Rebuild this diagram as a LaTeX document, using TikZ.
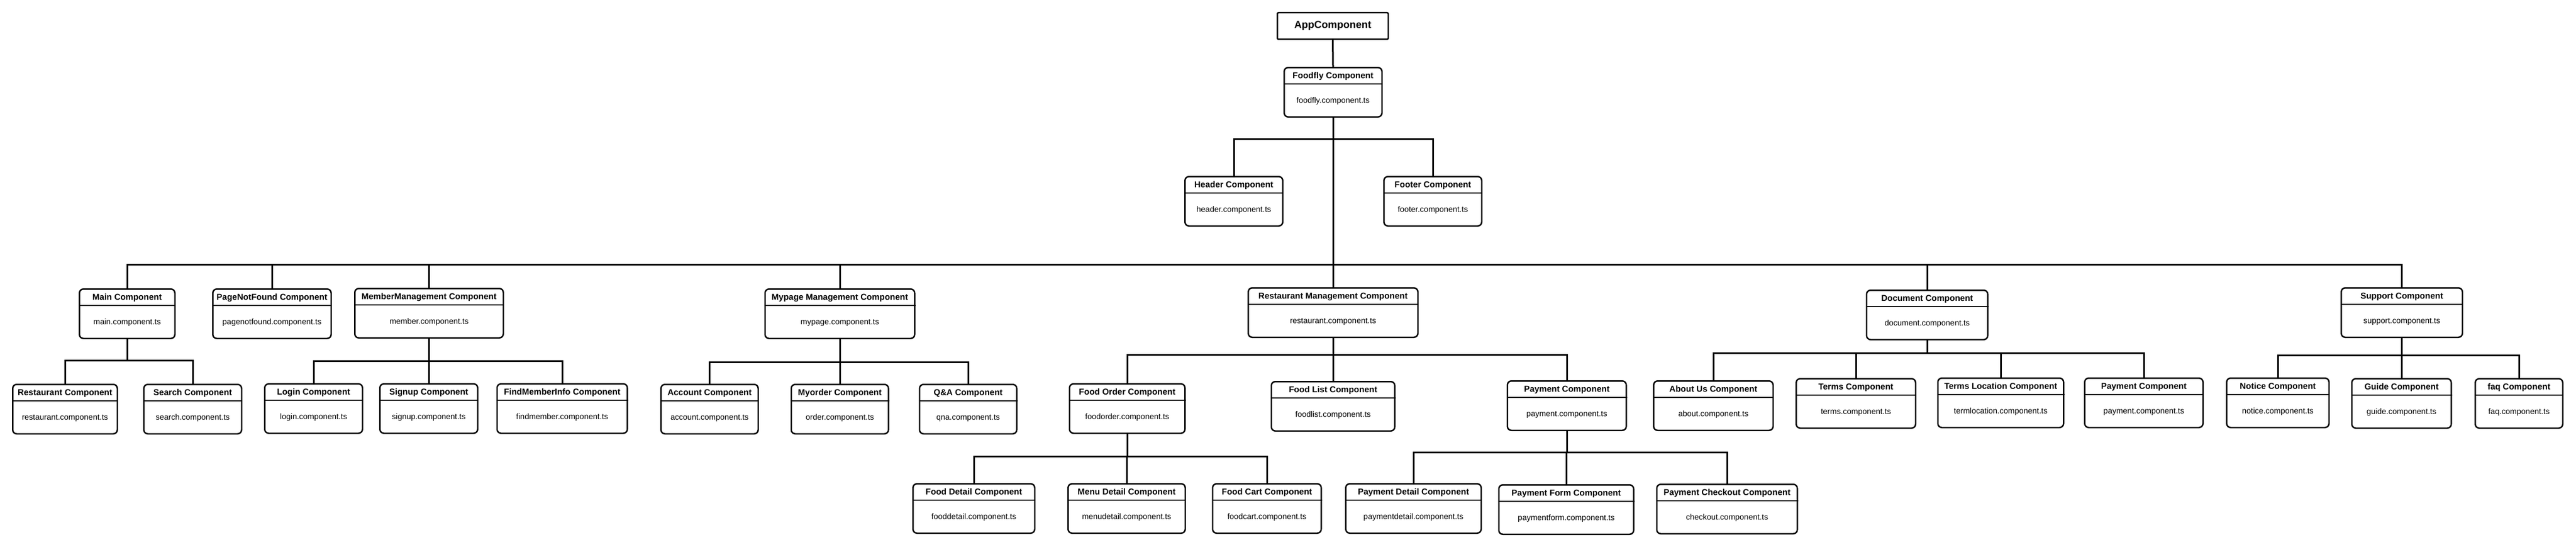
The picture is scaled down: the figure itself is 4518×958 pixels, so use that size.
\documentclass[tikz,border=0pt]{standalone}
\usepackage{fontspec}
\setmainfont{Liberation Sans}
\begin{document}
\begin{tikzpicture}[x=1pt,y=-1pt,
  compbox/.style={draw, line width=2.5pt, rounded corners=7pt, minimum height=86.5pt, inner sep=0pt, anchor=north},
  appbox/.style={draw, line width=2.5pt, rounded corners=2pt, minimum width=194.5pt, minimum height=46.5pt, inner sep=0pt, font=\bfseries\fontsize{18}{21}\selectfont},
  divider/.style={line width=2.5pt},
  ttl/.style={inner sep=0pt, text height=11pt, text depth=3pt, font=\bfseries\fontsize{15}{18}\selectfont},
  fil/.style={inner sep=0pt, text height=10pt, text depth=3pt, font=\fontsize{14}{17}\selectfont},
  conn/.style={line width=3pt}
]
\fill[white] (0,0) rectangle (4518,958);
\useasboundingbox (0,0) rectangle (4518,958);

\newcommand\comp[6]{%
  \node[compbox, minimum width=#4pt-2.5pt] (#1) at (#2,#3) {};
  \draw[divider] ([yshift=-30pt]#1.north west) -- ([yshift=-30pt]#1.north east);
  \node[ttl] (#1-t) at ([yshift=-16pt]#1.north) {#5};
  \node[fil] (#1-f) at ([yshift=-60pt]#1.north) {#6};
}
\newcommand\link[3]{\draw[conn] (#1.south) -- (#1.south |- 0,#3) -| (#2.north);}

\node[appbox] (app) at (2337.5,45.5) {AppComponent};

\comp{foodfly}{2338}{117}{174}{Foodfly Component}{foodfly.component.ts}
\comp{header}{2164}{308}{174}{Header Component}{header.component.ts}
\comp{footer}{2513}{308}{174}{Footer Component}{footer.component.ts}

\comp{main}{223}{505}{170}{Main Component}{main.component.ts}
\comp{pnf}{477}{505}{210}{PageNotFound Component}{pagenotfound.component.ts}
\comp{member}{752.5}{504}{263}{MemberManagement Component}{member.component.ts}
\comp{mypage}{1473}{505}{265}{Mypage Management Component}{mypage.component.ts}
\comp{restmgmt}{2338}{503}{300}{Restaurant Management Component}{restaurant.component.ts}
\comp{document}{3380}{507}{215}{Document Component}{document.component.ts}
\comp{support}{4212.5}{503}{215}{Support Component}{support.component.ts}

\comp{restaurant}{114}{672}{186}{Restaurant Component}{restaurant.component.ts}
\comp{search}{338}{672}{174}{Search Component}{search.component.ts}
\comp{login}{550}{671}{174}{Login Component}{login.component.ts}
\comp{signup}{752}{671}{174}{Signup Component}{signup.component.ts}
\comp{findmember}{986}{671}{231}{FindMemberInfo Component}{findmember.component.ts}
\comp{account}{1244.5}{672}{173}{Account Component}{account.component.ts}
\comp{myorder}{1473}{672}{173}{Myorder Component}{order.component.ts}
\comp{qna}{1698}{672}{173}{Q\&A Component}{qna.component.ts}
\comp{foodorder}{1977}{671}{205}{Food Order Component}{foodorder.component.ts}
\comp{foodlist}{2338}{667}{219}{Food List Component}{foodlist.component.ts}
\comp{payment}{2748}{666}{211}{Payment Component}{payment.component.ts}
\comp{aboutus}{3005}{666}{212}{About Us Component}{about.component.ts}
\comp{terms}{3255}{662}{212}{Terms Component}{terms.component.ts}
\comp{termsloc}{3509}{661}{223}{Terms Location Component}{termlocation.component.ts}
\comp{docpayment}{3760}{661}{210}{Payment Component}{payment.component.ts}
\comp{notice}{3995}{661}{182}{Notice Component}{notice.component.ts}
\comp{guide}{4212}{662}{177}{Guide Component}{guide.component.ts}
\comp{faq}{4418}{662}{156}{faq Component}{faq.component.ts}

\comp{fooddetail}{1708}{846}{216}{Food Detail Component}{fooddetail.component.ts}
\comp{menudetail}{1976}{846}{208}{Menu Detail Component}{menudetail.component.ts}
\comp{foodcart}{2222}{846}{193}{Food Cart Component}{foodcart.component.ts}
\comp{paydetail}{2479}{846}{240}{Payment Detail Component}{paymentdetail.component.ts}
\comp{payform}{2747}{848}{239}{Payment Form Component}{paymentform.component.ts}
\comp{checkout}{3029}{847}{249}{Payment Checkout Component}{checkout.component.ts}

% connectors
\draw[conn] (app.south) -- (foodfly.north);
\link{foodfly}{header}{243}
\link{foodfly}{footer}{243}
\foreach \c in {main,pnf,member,mypage,restmgmt,document,support} {\link{foodfly}{\c}{463}}
\link{main}{restaurant}{631}
\link{main}{search}{631}
\foreach \c in {login,signup,findmember} {\link{member}{\c}{632}}
\foreach \c in {account,myorder,qna} {\link{mypage}{\c}{634}}
\foreach \c in {foodorder,foodlist,payment} {\link{restmgmt}{\c}{621}}
\foreach \c in {aboutus,terms,termsloc,docpayment} {\link{document}{\c}{618}}
\foreach \c in {notice,guide,faq} {\link{support}{\c}{622}}
\foreach \c in {fooddetail,menudetail,foodcart} {\link{foodorder}{\c}{799}}
\foreach \c in {paydetail,payform,checkout} {\link{payment}{\c}{792}}
\end{tikzpicture}
\end{document}
